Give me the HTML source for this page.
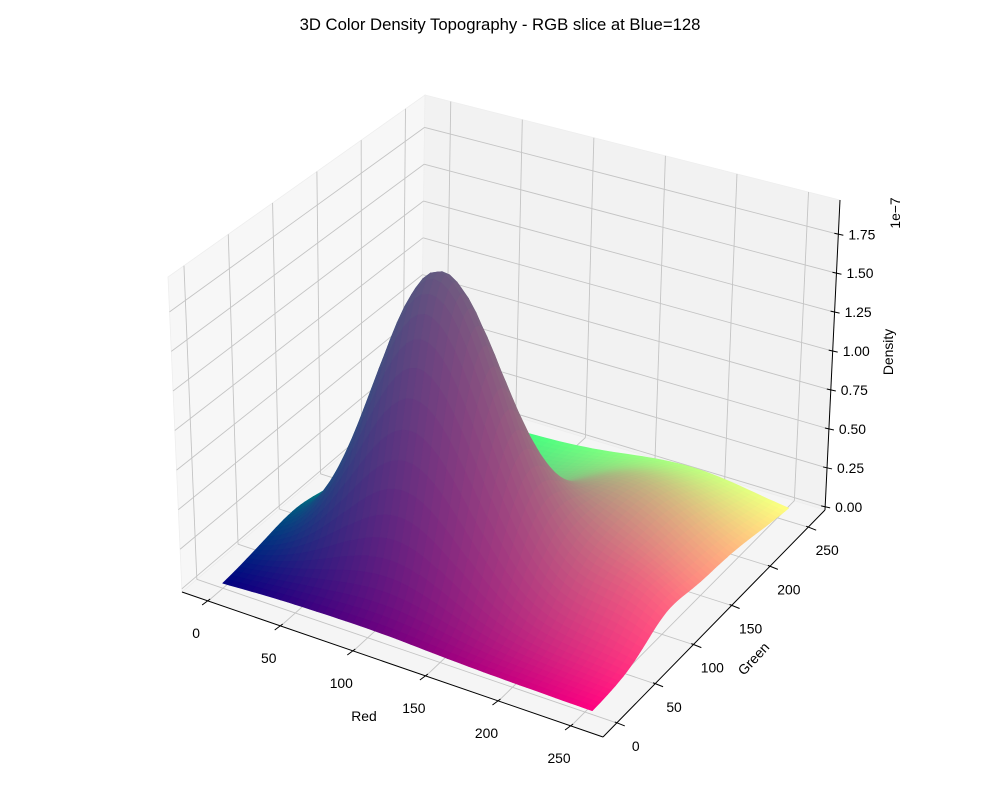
<!DOCTYPE html>
<html><head><meta charset="utf-8"><style>
html,body{margin:0;padding:0;background:#fff;}
svg{display:block;font-family:"Liberation Sans","DejaVu Sans",sans-serif;}
</style></head><body>
<svg id="chart" width="1000" height="800" viewBox="0 0 1000 800" xmlns="http://www.w3.org/2000/svg">
<rect x="0" y="0" width="1000" height="800" fill="#ffffff"/>
<text x="500" y="30" text-anchor="middle" font-size="16.7" fill="#000">3D Color Density Topography - RGB slice at Blue=128</text>
<g id="panes"></g>
<g id="grid"></g>
<g id="surface"></g>
<g id="axes"></g>
<text x="364" y="721" text-anchor="middle" font-size="13.9">Red</text>
<text x="0" y="0" text-anchor="middle" font-size="13.9" transform="translate(757,662) rotate(-47)">Green</text>
<text x="0" y="0" text-anchor="middle" font-size="13.9" transform="translate(893,352) rotate(-90)">Density</text>
<text x="0" y="0" text-anchor="middle" font-size="13.9" transform="translate(900,213) rotate(-90)">1e−7</text>
</svg>
<script>
// ---- data ----
const rTicks = [0, 50, 100, 150, 200, 250];
const gTicks = [0, 50, 100, 150, 200, 250];
const zTicks = [0, 0.25, 0.5, 0.75, 1.0, 1.25, 1.5, 1.75];
const zTickLabels = ["0.00","0.25","0.50","0.75","1.00","1.25","1.50","1.75"];
// density mixture components (units 1e-7)
const compRed   = [100, 185, 35, 235];
const compGreen = [90, 160, 35, 95];
const compAmp   = [1.85, 0.4, 0.04, 0.12];
const compSigR  = [40, 45, 30, 25];
const compSigG  = [32, 58, 30, 25];

// ---- axis limits / projection ----
const Rmin=-18, Rmax=272, Gmin=-18, Gmax=272, Zmin=-0.02, Zmax=1.97;
const Lb=[182,592], Fb=[603,737], Rb=[825,510], Bb=[421,388];
const Lt=[168,277], Ft=[603,407], Rt=[840,200], Bt=[425,95];
function bil(a,b,c,d,u,v){
  const wa=(1-u)*(1-v), wb=u*(1-v), wc=u*v, wd=(1-u)*v;
  return [a[0]*wa+b[0]*wb+c[0]*wc+d[0]*wd, a[1]*wa+b[1]*wb+c[1]*wc+d[1]*wd];
}
function proj(R,G,Z){
  const u=(R-Rmin)/(Rmax-Rmin), v=(G-Gmin)/(Gmax-Gmin), w=(Z-Zmin)/(Zmax-Zmin);
  const b=bil(Lb,Fb,Rb,Bb,u,v), t=bil(Lt,Ft,Rt,Bt,u,v);
  return [b[0]+(t[0]-b[0])*w, b[1]+(t[1]-b[1])*w];
}
function density(R,G){
  let s=0;
  for(let i=0;i<compAmp.length;i++){
    const dr=(R-compRed[i])/compSigR[i], dg=(G-compGreen[i])/compSigG[i];
    s+=compAmp[i]*Math.exp(-0.5*(dr*dr+dg*dg));
  }
  return s;
}
const NS="http://www.w3.org/2000/svg";
function mk(tag,parent,attrs){
  const e=document.createElementNS(NS,tag);
  for(const k in attrs) e.setAttribute(k,attrs[k]);
  parent.appendChild(e); return e;
}
const pts=a=>a.map(p=>p[0].toFixed(1)+","+p[1].toFixed(1)).join(" ");

// ---- panes ----
const panes=document.getElementById('panes');
let e;
e=mk('polygon',panes,{points:pts([proj(Rmin,Gmin,Zmin),proj(Rmin,Gmax,Zmin),proj(Rmin,Gmax,Zmax),proj(Rmin,Gmin,Zmax)]),fill:'#f7f7f7',stroke:'#eeeeee','stroke-width':0.8});


e=mk('polygon',panes,{points:pts([proj(Rmin,Gmax,Zmin),proj(Rmax,Gmax,Zmin),proj(Rmax,Gmax,Zmax),proj(Rmin,Gmax,Zmax)]),fill:'#f2f2f2',stroke:'#eeeeee','stroke-width':0.8});


e=mk('polygon',panes,{points:pts([proj(Rmin,Gmin,Zmin),proj(Rmax,Gmin,Zmin),proj(Rmax,Gmax,Zmin),proj(Rmin,Gmax,Zmin)]),fill:'#f5f5f5',stroke:'#eeeeee','stroke-width':0.8});



// ---- grid ----
const grid=document.getElementById('grid');
const gs={stroke:'#c4c4c4','stroke-width':0.9,fill:'none'};
function gline(a,b,name){
  const l=mk('line',grid,Object.assign({x1:a[0],y1:a[1],x2:b[0],y2:b[1]},gs));
  
  
}
rTicks.forEach(r=>{
  gline(proj(r,Gmin,Zmin),proj(r,Gmax,Zmin),'floor-grid-red');
  gline(proj(r,Gmax,Zmin),proj(r,Gmax,Zmax),'back-grid-red');
});
gTicks.forEach(g=>{
  gline(proj(Rmin,g,Zmin),proj(Rmax,g,Zmin),'floor-grid-green');
  gline(proj(Rmin,g,Zmin),proj(Rmin,g,Zmax),'left-grid-green');
});
zTicks.forEach(z=>{
  gline(proj(Rmin,Gmin,z),proj(Rmin,Gmax,z),'left-grid-z');
  gline(proj(Rmin,Gmax,z),proj(Rmax,Gmax,z),'back-grid-z');
});

// ---- surface ----
const surf=document.getElementById('surface');
const step=5, N=Math.round(255/step);
const vals=[];
for(let i=0;i<=N;i++){vals.push([]);for(let j=0;j<=N;j++){vals[i].push(density(i*255/N,j*255/N));}}
const faces=[];
const cam=[0.433,-0.75,0.5];
for(let i=0;i<N;i++){for(let j=0;j<N;j++){
  const R0=i*255/N,R1=(i+1)*255/N,G0=j*255/N,G1=(j+1)*255/N;
  const z00=vals[i][j],z10=vals[i+1][j],z11=vals[i+1][j+1],z01=vals[i][j+1];
  const Rc=(R0+R1)/2,Gc=(G0+G1)/2,Zc=(z00+z10+z11+z01)/4;
  const u=(Rc-Rmin)/(Rmax-Rmin)-0.5,v=(Gc-Gmin)/(Gmax-Gmin)-0.5,w=(Zc-Zmin)/(Zmax-Zmin)-0.5;
  const depth=u*cam[0]+v*cam[1]+w*cam[2]*0.6;
  faces.push({d:depth,p:[proj(R0,G0,z00),proj(R1,G0,z10),proj(R1,G1,z11),proj(R0,G1,z01)],c:`rgb(${Math.round(Rc)},${Math.round(Gc)},128)`});
}}
faces.sort((a,b)=>a.d-b.d);
faces.forEach(f=>{
  const p=mk('polygon',surf,{points:pts(f.p),fill:f.c,stroke:f.c,'stroke-width':0.7,'stroke-linejoin':'round'});
  
  
});

// ---- axes ----
const axes=document.getElementById('axes');
function aline(a,b,name,w){
  const l=mk('line',axes,{x1:a[0],y1:a[1],x2:b[0],y2:b[1],stroke:'#000','stroke-width':w||1});
  
  
}
function label(x,y,txt,anchor,name){
  const t=mk('text',axes,{x:x,y:y,'text-anchor':anchor,'font-size':13.9,fill:'#000'});
  t.textContent=txt;
  
  
}
aline(proj(Rmin,Gmin,Zmin),proj(Rmax,Gmin,Zmin),'x-axis-line');
aline(proj(Rmax,Gmin,Zmin),proj(Rmax,Gmax,Zmin),'y-axis-line');
aline(proj(Rmax,Gmax,Zmin),proj(Rmax,Gmax,Zmax),'z-axis-line');
rTicks.forEach(r=>{
  const p=proj(r,Gmin,Zmin);
  aline([p[0]+2,p[1]-2],[p[0]-6,p[1]+4],'x-tick');
  label(p[0]-12,p[1]+37,String(r),'middle','x-tick-label');
});
gTicks.forEach(g=>{
  const p=proj(Rmax,g,Zmin);
  aline([p[0]-2,p[1]-1],[p[0]+8,p[1]+3],'y-tick');
  label(p[0]+19,p[1]+28,String(g),'middle','y-tick-label');
});
zTicks.forEach((z,k)=>{
  const p=proj(Rmax,Gmax,z);
  aline([p[0]-4,p[1]-1],[p[0]+5,p[1]+1],'z-tick');
  label(p[0]+10,p[1]+5,zTickLabels[k],'start','z-tick-label');
});
</script>
</body></html>
